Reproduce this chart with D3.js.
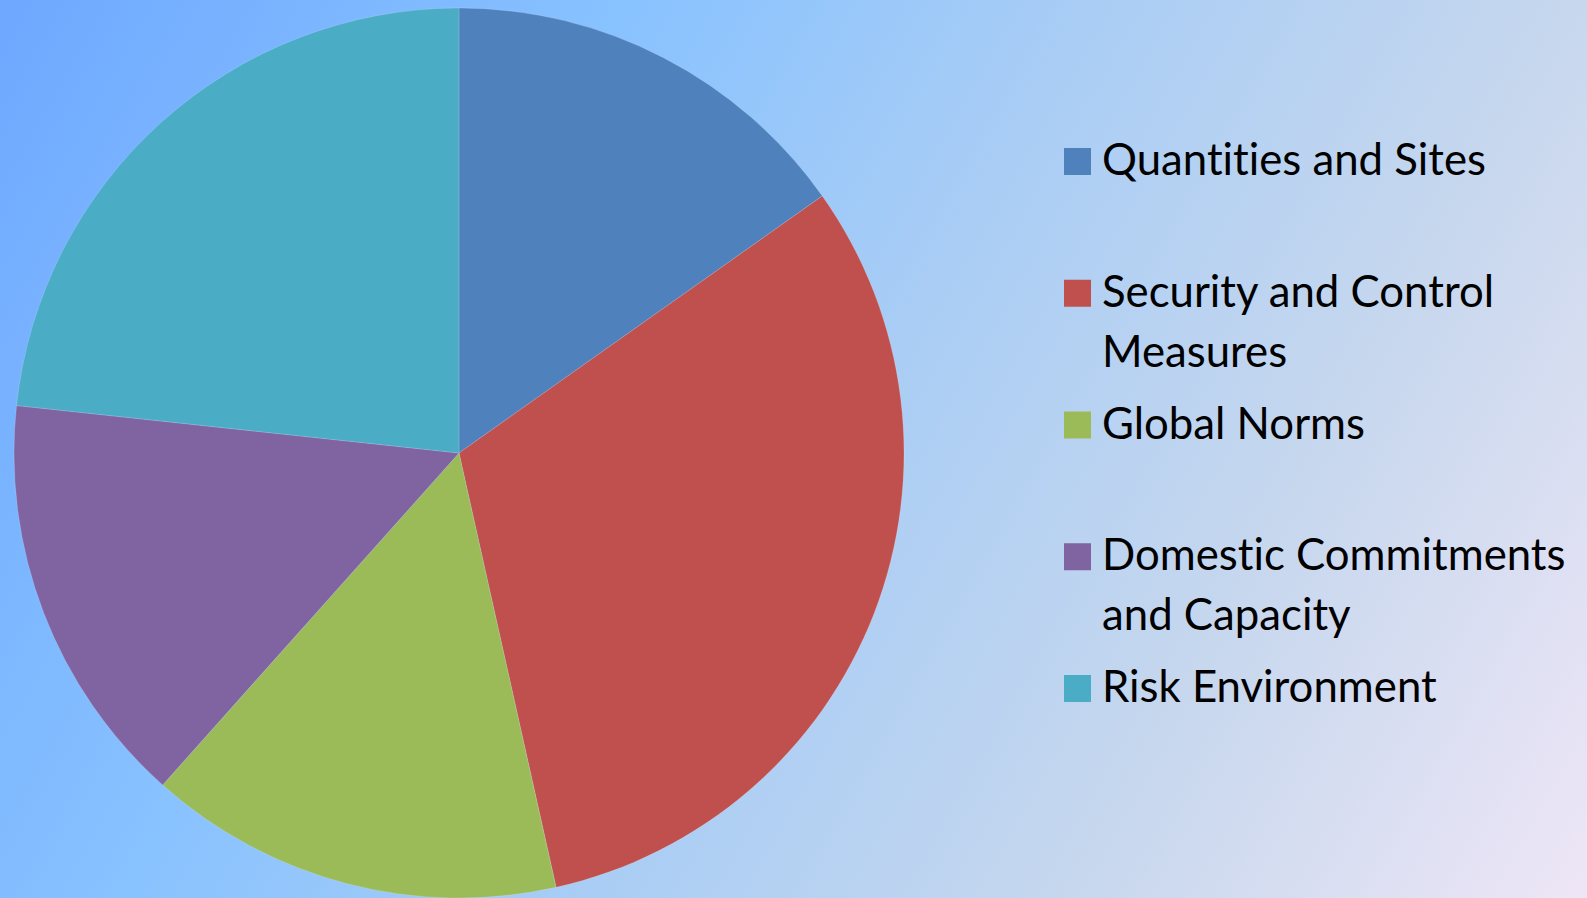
<!DOCTYPE html>
<html>
<head>
<meta charset="utf-8">
<script src="https://cdn.jsdelivr.net/npm/d3@7"></script>
<style>
  html, body { margin: 0; padding: 0; overflow: hidden; }
  svg { display: block; }
  text { font-variant-ligatures: none; font-feature-settings: "liga" 0, "clig" 0; }
</style>
</head>
<body>
<svg id="chart" width="1587" height="898"></svg>
<script>
// ---- data ----
const categories = [
  "Quantities and Sites",
  "Security and Control Measures",
  "Global Norms",
  "Domestic Commitments and Capacity",
  "Risk Environment"
];
const values = [15.2, 31.3, 15.1, 15.1, 23.3];
const colors = ["#4F81BD", "#C0504D", "#9BBB59", "#8064A2", "#4BACC6"];

// ---- layout ----
const W = 1587, H = 898;
const cx = 459, cy = 453, R = 445;
const svg = d3.select("#chart");

// background gradient
const defs = svg.append("defs");
const grad = defs.append("linearGradient")
  .attr("id", "bg").attr("gradientUnits", "userSpaceOnUse")
  .attr("x1", 0).attr("y1", 0).attr("x2", W).attr("y2", H);
[[0, "#6ea8ff"], [0.3, "#88c2ff"], [0.52, "#a9cdf5"], [0.75, "#c6d7ee"], [1, "#eee6f6"]]
  .forEach(([o, c]) => grad.append("stop").attr("offset", o).attr("stop-color", c));
svg.append("rect").attr("width", W).attr("height", H).attr("fill", "url(#bg)");

// pie
const pie = d3.pie().sort(null).value(d => d.v);
const arc = d3.arc().innerRadius(0).outerRadius(R);
const data = categories.map((c, i) => ({ c, v: values[i], col: colors[i] }));
svg.append("g").attr("transform", `translate(${cx},${cy})`)
  .selectAll("path").data(pie(data)).join("path")
  .attr("d", arc)
  .attr("fill", d => d.data.col)
  .attr("stroke", "#ffffff").attr("stroke-opacity", 0.25).attr("stroke-width", 0.6);

// legend
const fontFamily = "Lato, 'Open Sans', 'Liberation Sans', sans-serif";
const leg = svg.append("g");
// fit font size so first label spans target width
const probe = leg.append("text").attr("font-family", fontFamily).attr("font-size", 48).text(categories[0]);
const w0 = probe.node().getComputedTextLength();
probe.remove();
const fs = 48 * 384 / w0;

const textX = 1102, sqX = 1064, sq = 27;
const y = d3.scalePoint().domain(categories).range([175, 702]);
const lineH = 60, maxW = 470;

categories.forEach((c, i) => {
  const by = y(c);
  leg.append("rect").attr("x", sqX).attr("y", by - sq).attr("width", sq).attr("height", sq)
    .attr("fill", colors[i]);
  const t = leg.append("text").attr("font-family", fontFamily).attr("font-size", fs)
    .attr("fill", "#000").attr("x", textX).attr("y", by);
  // wrap
  const words = c.split(" ");
  let line = [], lineNo = 0;
  let ts = t.append("tspan").attr("x", textX).attr("y", by);
  words.forEach(w => {
    line.push(w);
    ts.text(line.join(" "));
    if (ts.node().getComputedTextLength() > maxW && line.length > 1) {
      line.pop();
      ts.text(line.join(" "));
      line = [w];
      lineNo++;
      ts = t.append("tspan").attr("x", textX).attr("y", by + lineNo * lineH).text(w);
    }
  });
});
</script>
</body>
</html>
